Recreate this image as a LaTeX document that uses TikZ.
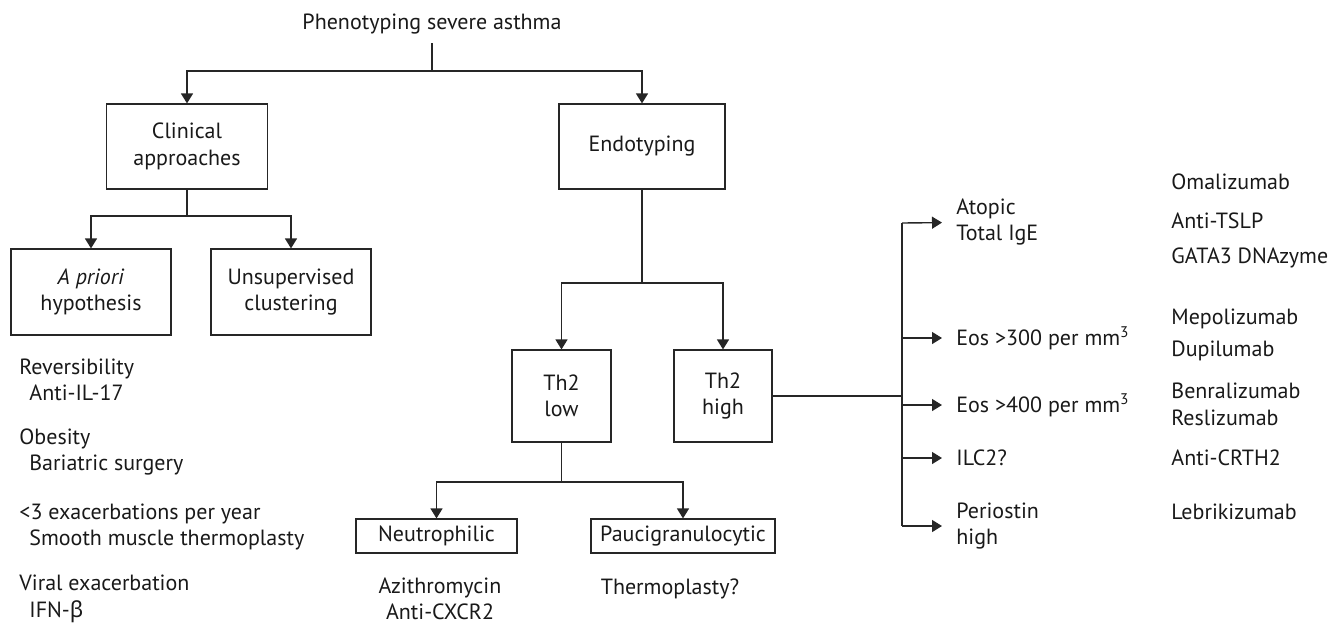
\documentclass[tikz,border=0pt]{standalone}
\usepackage{fontspec}
\setmainfont{PT Sans}
\newfontfamily\greekfont{Noto Sans}
\usetikzlibrary{arrows.meta,positioning}

\begin{document}
\begin{tikzpicture}
[x=0.5pt,y=-0.5pt,
 every node/.style={font=\fontsize{11}{13.2}\selectfont,text=black!90},
 place/.style={rectangle,draw=black!85,line width=0.6pt,align=center,inner sep=0pt},
 line/.style={draw=black!85,line width=0.7pt},
 arr/.style={line,-{Triangle[length=5pt,width=6pt]}},
 note/.style={align=left,anchor=west,inner sep=0pt},
 tag/.style={note,inner xsep=7pt}]
\useasboundingbox (0,0) rectangle (1343,623);
% top level
\node[inner ysep=4pt,anchor=south] (title) at (432,43) {Phenotyping severe asthma};
\coordinate (j0) at (432,71);
\node[place,minimum width=80.5pt,minimum height=42.5pt] (clinical) at (187,146.5) {Clinical\\approaches};
\node[place,minimum width=83pt,minimum height=42.5pt] (endo) at (642,146.5) {Endotyping};
\draw[line] (title.south) -- (j0);
\draw[arr] (j0) -| (clinical);
\draw[arr] (j0) -| (endo);
% clinical approaches
\coordinate (j1) at (187,216);
\node[place,minimum width=80pt,minimum height=43pt] (apriori) at (91,292) {\textit{A priori}\\hypothesis};
\node[place,minimum width=80pt,minimum height=43pt] (unsup) at (291,292) {Unsupervised\\clustering};
\draw[line] (clinical) -- (j1);
\draw[arr] (j1) -| (apriori);
\draw[arr] (j1) -| (unsup);
\node[note] (revers) at (19,380) {Reversibility\\\hspace*{5pt}Anti-IL-17};
\node[note] (obesity) at (19,452) {Obesity\\\hspace*{5pt}Bariatric surgery};
\node[note] (exacer) at (19,527) {<3 exacerbations per year\\\hspace*{5pt}Smooth muscle thermoplasty};
\node[note] (viral) at (19,599) {Viral exacerbation\\\hspace*{5pt}IFN-{\greekfont β}};
% endotyping
\coordinate (j2) at (642,283);
\node[place,minimum width=49.5pt,minimum height=46pt] (th2low) at (561.5,396) {Th2\\low};
\node[place,minimum width=49pt,minimum height=46pt] (th2high) at (723,396) {Th2\\high};
\draw[line] (endo) -- (j2);
\draw[arr] (j2) -| (th2low);
\draw[arr] (j2) -| (th2high);
% Th2 low
\coordinate (j3) at (561.5,482);
\node[place,minimum width=80.5pt,minimum height=17pt] (neutro) at (436.5,536) {Neutrophilic};
\node[place,minimum width=92pt,minimum height=17pt] (pauci) at (683,536) {Paucigranulocytic};
\draw[line] (th2low) -- (j3);
\draw[arr] (j3) -| (neutro);
\draw[arr] (j3) -| (pauci);
\node[align=center,inner sep=0pt] (azithro) at (440,599) {Azithromycin\\Anti-CXCR2};
\node[inner sep=0pt] (thermo) at (670,589) {Thermoplasty?};
% Th2 high
\coordinate (j4) at (902,396);
\coordinate (b1) at (902,223);
\coordinate (b2) at (902,338);
\coordinate (b3) at (902,405);
\coordinate (b4) at (902,458);
\coordinate (b5) at (902,526);
\node[tag] (atopic) at (942,222) {Atopic\\Total IgE};
\node[tag] (eos3) at (942,338) {Eos >300 per mm\textsuperscript{3}};
\node[tag] (eos4) at (942,405) {Eos >400 per mm\textsuperscript{3}};
\node[tag] (ilc) at (942,458) {ILC2?};
\node[tag] (perio) at (942,526) {Periostin\\high};
\draw[line] (th2high) -- (j4);
\draw[line] (b1) -- (b5);
\draw[arr] (b1) -- (atopic);
\draw[arr] (b2) -- (eos3);
\draw[arr] (b3) -- (eos4);
\draw[arr] (b4) -- (ilc);
\draw[arr] (b5) -- (perio);
% therapies
\node[note] (omali) at (1171,182) {Omalizumab};
\node[note] (tslp) at (1171,221) {Anti-TSLP};
\node[note] (gata) at (1171,258) {GATA3 DNAzyme};
\node[note] (mepo) at (1171,319) {Mepolizumab};
\node[note] (dupi) at (1171,351) {Dupilumab};
\node[note] (benra) at (1171,391) {Benralizumab};
\node[note] (resli) at (1171,418) {Reslizumab};
\node[note] (crth) at (1171,458) {Anti-CRTH2};
\node[note] (lebri) at (1171,512) {Lebrikizumab};
\end{tikzpicture}
\end{document}
